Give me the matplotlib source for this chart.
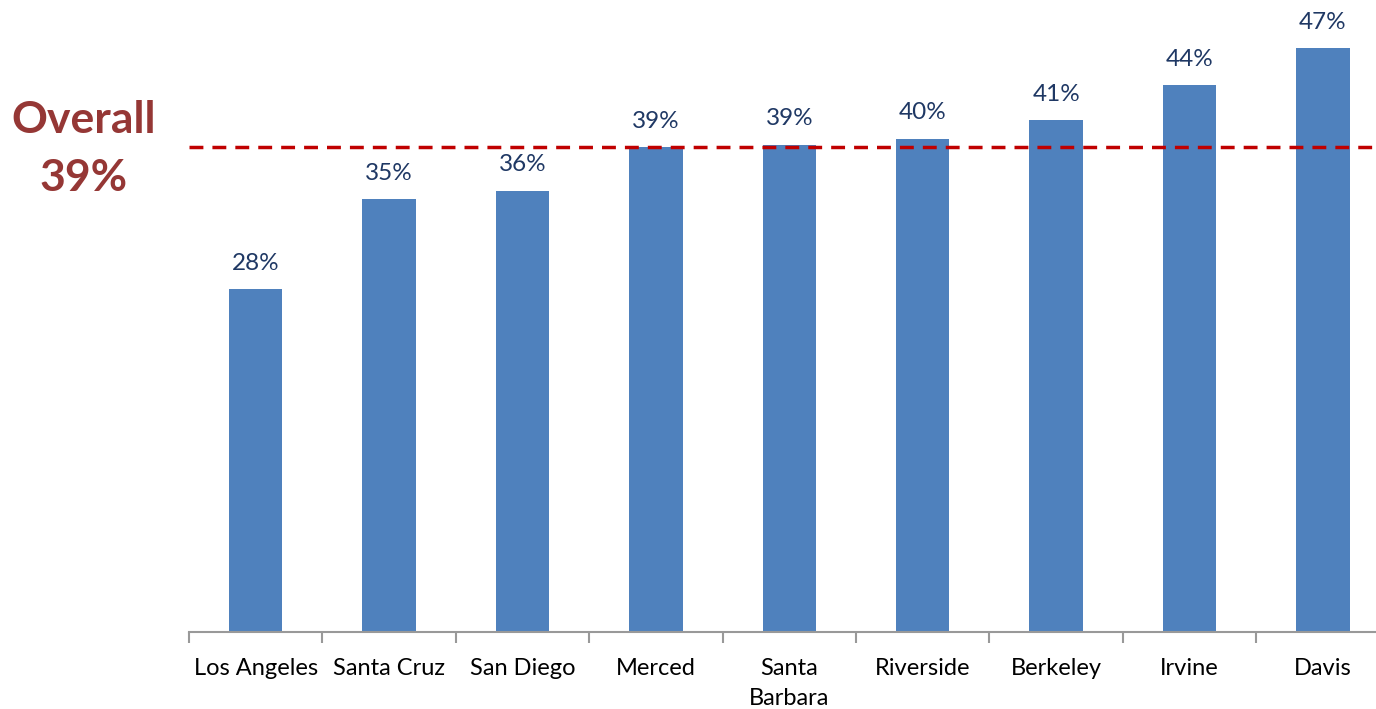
import matplotlib
matplotlib.use("Agg")
import matplotlib.pyplot as plt
import numpy as np

# Campus share values
CAMPUSES = ["Los Angeles", "Santa Cruz", "San Diego", "Merced", "Santa\nBarbara",
            "Riverside", "Berkeley", "Irvine", "Davis"]
VALUES = [27.6, 34.8, 35.5, 39.0, 39.2, 39.7, 41.2, 44.0, 47.0]
OVERALL = 39

BAR_COLOR = "#4F81BD"
LABEL_COLOR = "#1F3864"
LINE_COLOR = "#C00000"
OVERALL_COLOR = "#953735"

plt.rcParams["font.family"] = ["Lato", "DejaVu Sans"]

fig = plt.figure(figsize=(13.76, 7.09), dpi=100)
ax = fig.add_axes([189 / 1376, 77 / 709, 9 * 133.4 / 1376, 621.5 / 709])

x = np.arange(len(CAMPUSES))
bars = ax.bar(x, VALUES, width=0.4, color=BAR_COLOR, zorder=2)

for xi, v in zip(x, VALUES):
    ax.annotate(f"{v:.0f}%", (xi, v), xytext=(0, 11), textcoords="offset points",
                ha="center", va="bottom", fontsize=17.5, color=LABEL_COLOR)

ax.axhline(OVERALL, color=LINE_COLOR, linewidth=2.5, dashes=(4, 2.6), zorder=3)

ax.set_xlim(-0.5, len(CAMPUSES) - 0.5)
ax.set_ylim(0, 50)

# category labels centred, boundary ticks as minor ticks
ax.set_xticks(x)
ax.set_xticklabels(CAMPUSES, fontsize=17, color="black", linespacing=1.55)
ax.tick_params(axis="x", which="major", length=0, pad=18.5)
ax.set_xticks(np.arange(len(CAMPUSES) + 1) - 0.5, minor=True)
ax.tick_params(axis="x", which="minor", length=8, color="#999999", width=1.5)

ax.set_yticks([])
for side in ["top", "right", "left"]:
    ax.spines[side].set_visible(False)
ax.spines["bottom"].set_color("#999999")
ax.spines["bottom"].set_linewidth(1.5)

fig.text(84 / 1376, 1 - 120 / 709, "Overall", ha="center", va="center",
         fontsize=32, fontweight="bold", color=OVERALL_COLOR)
fig.text(84 / 1376, 1 - 178 / 709, f"{OVERALL}%", ha="center", va="center",
         fontsize=32, fontweight="bold", color=OVERALL_COLOR)

fig.savefig("out.png", dpi=100)
